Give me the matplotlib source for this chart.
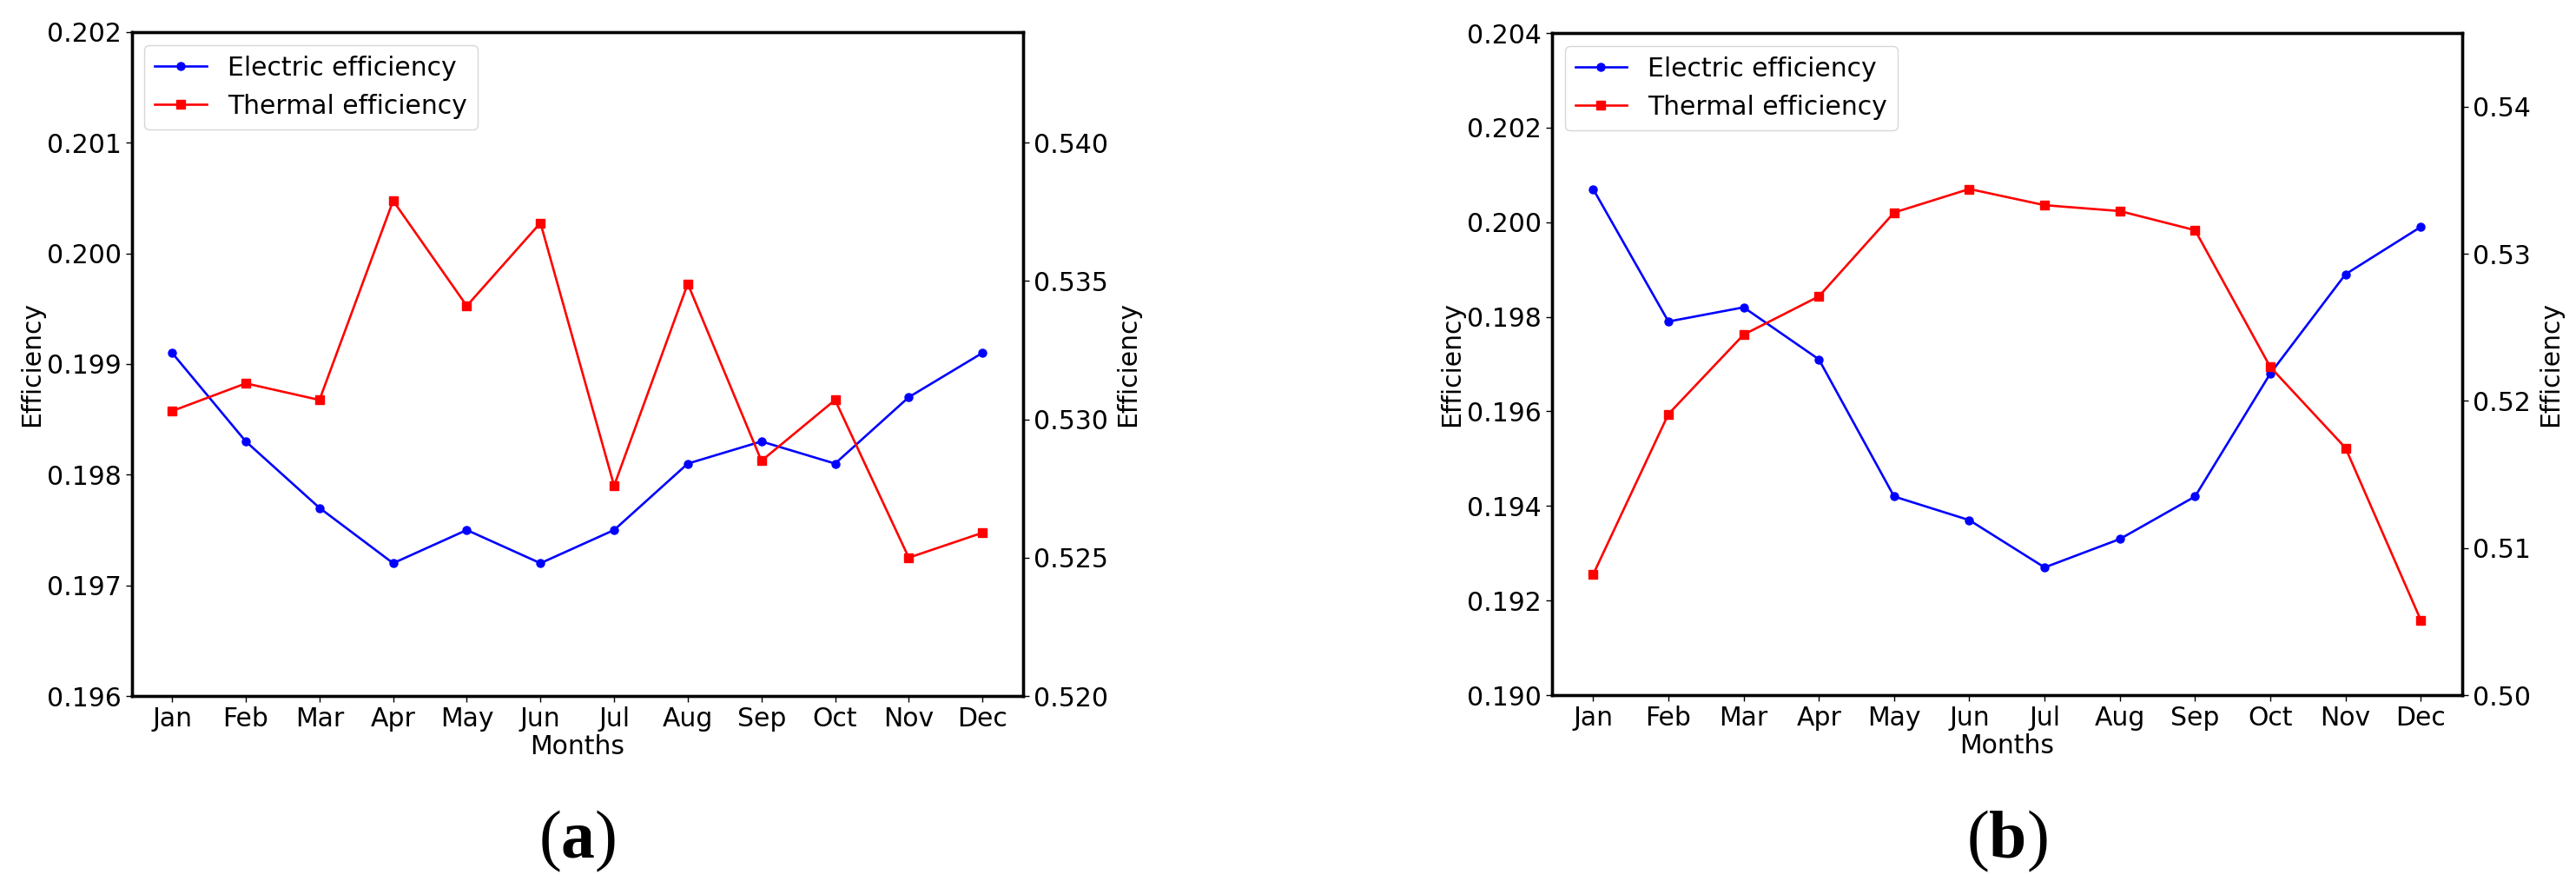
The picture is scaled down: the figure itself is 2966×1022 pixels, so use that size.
import matplotlib
matplotlib.use('Agg')
import matplotlib.pyplot as plt
from matplotlib.ticker import FormatStrFormatter, MultipleLocator

plt.rcParams['font.family'] = ['DejaVu Sans']
plt.rcParams['mathtext.fontset'] = 'custom'
plt.rcParams['mathtext.rm'] = 'Liberation Serif'
plt.rcParams['mathtext.bf'] = 'Liberation Serif:bold'

months = ['Jan', 'Feb', 'Mar', 'Apr', 'May', 'Jun', 'Jul', 'Aug', 'Sep', 'Oct', 'Nov', 'Dec']

# panel (a)
elec_a = [0.1991, 0.1983, 0.1977, 0.1972, 0.1975, 0.1972, 0.1975, 0.1981, 0.1983, 0.1981, 0.1987, 0.1991]
therm_a = [0.5303, 0.5313, 0.5307, 0.5379, 0.5341, 0.5371, 0.5276, 0.5349, 0.5285, 0.5307, 0.5250, 0.5259]

# panel (b)
elec_b = [0.2007, 0.1979, 0.1982, 0.1971, 0.1942, 0.1937, 0.1927, 0.1933, 0.1942, 0.1968, 0.1989, 0.1999]
therm_b = [0.5082, 0.5191, 0.5245, 0.5271, 0.5328, 0.5344, 0.5333, 0.5329, 0.5316, 0.5223, 0.5168, 0.5051]

FS = 21.5

fig = plt.figure(figsize=(29.66, 10.22), dpi=100)


def panel(rect, elec, therm, ylim1, step1, fmt1, ylim2, step2, fmt2, tag):
    ax1 = fig.add_axes(rect)
    ax2 = ax1.twinx()
    x = list(range(len(months)))
    l1, = ax1.plot(x, elec, color='blue', marker='o', markersize=6.5, linewidth=1.9,
                   label='Electric efficiency')
    l2, = ax2.plot(x, therm, color='red', marker='s', markersize=6.5, linewidth=1.9,
                   label='Thermal efficiency')
    ax1.set_xticks(x)
    ax1.set_xticklabels(months)
    ax1.set_ylim(*ylim1)
    ax1.yaxis.set_major_locator(MultipleLocator(step1))
    ax1.yaxis.set_major_formatter(FormatStrFormatter(fmt1))
    ax2.set_ylim(*ylim2)
    ax2.yaxis.set_major_locator(MultipleLocator(step2))
    ax2.yaxis.set_major_formatter(FormatStrFormatter(fmt2))
    for a in (ax1, ax2):
        a.tick_params(labelsize=FS, width=1, length=5)
        for s in a.spines.values():
            s.set_linewidth(2.4)
    ax1.set_xlabel('Months', fontsize=FS, labelpad=2)
    ax1.set_ylabel('Efficiency', fontsize=FS, labelpad=2)
    ax2.set_ylabel('Efficiency', fontsize=FS, labelpad=6)
    ax2.legend([l1, l2], [l1.get_label(), l2.get_label()], loc='upper left', fontsize=FS)
    cx = rect[0] + rect[2] / 2
    fig.text(cx, 1 - 968 / 1022, r'$\mathrm{(}\mathbf{' + tag + r'}\mathrm{)}$',
             ha='center', va='center', fontsize=56)
    return ax1, ax2


panel([0.0511, 0.2162, 0.3460, 0.7478], elec_a, therm_a,
      (0.196, 0.202), 0.001, '%.3f', (0.520, 0.544), 0.005, '%.3f', 'a')
panel([0.6024, 0.2172, 0.3534, 0.7456], elec_b, therm_b,
      (0.190, 0.204), 0.002, '%.3f', (0.50, 0.545), 0.01, '%.2f', 'b')

fig.savefig('out.png', dpi=100)
